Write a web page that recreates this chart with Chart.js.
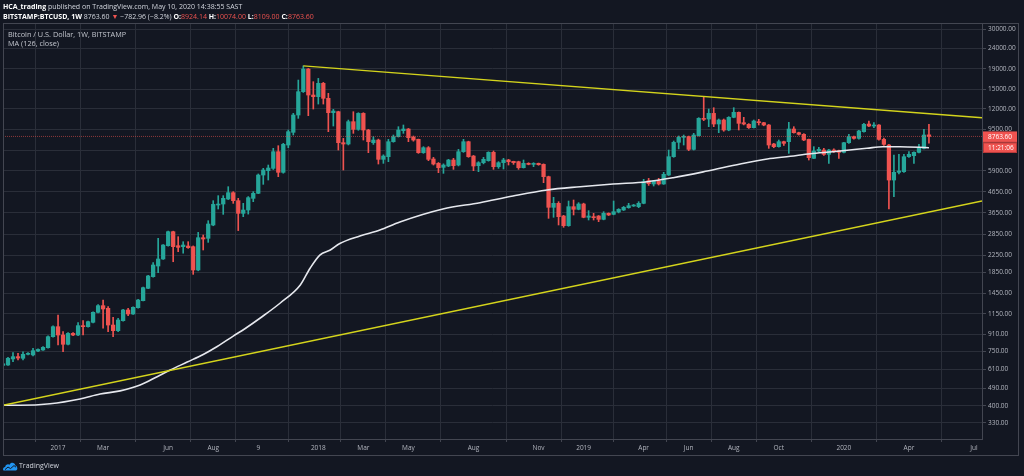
<!DOCTYPE html>
<html>
<head>
<meta charset="utf-8">
<title>BTCUSD 1W</title>
<script src="https://cdn.jsdelivr.net/npm/chart.js@4.4.1/dist/chart.umd.min.js"></script>
<style>
  html, body { margin: 0; padding: 0; background: #131722; }
  body { width: 1024px; height: 476px; position: relative; overflow: hidden;
         font-family: "Open Sans", sans-serif; color: #d1d4dc; }
  #chart { position: absolute; left: 0; top: 0; }
  .t { position: absolute; white-space: nowrap; line-height: 1; }
  .hdr { font-size: 7px; left: 3px; }
  .hdr b { color: #ffffff; font-weight: 700; }
  .red { color: #ef5350; }
  .leg { font-size: 7.3px; left: 8px; color: #c3c6ce; }
  #frame { position: absolute; left: 3px; top: 23px; width: 1016px; height: 433px;
           box-sizing: border-box; border: 1px solid #434651; pointer-events: none; }
  #logo { position: absolute; left: 3px; top: 461px; }
  #logoTxt { left: 19px; top: 462px; font-size: 7px; color: #d1d4dc; }
</style>
</head>
<body>
<canvas id="chart" width="1024" height="476"></canvas>
<div id="frame"></div>

<div class="t hdr" style="top:2.5px"><b>HCA_trading</b> published on TradingView.com, May 10, 2020 14:38:55 SAST</div>
<div class="t hdr" style="top:12.5px"><b>BITSTAMP:BTCUSD, 1W</b> 8763.60 <span class="red">&#9660;</span> &minus;782.96 (&minus;8.2%) <b>O:</b><span class="red">8924.14</span> <b>H:</b><span class="red">10074.00</span> <b>L:</b><span class="red">8109.00</span> <b>C:</b><span class="red">8763.60</span></div>
<div class="t leg" style="top:30.5px">Bitcoin / U.S. Dollar, 1W, BITSTAMP</div>
<div class="t leg" style="top:39.5px">MA (126, close)</div>

<svg id="logo" width="15" height="10" viewBox="0 0 15 10">
  <path d="M1 9.5 C-0.5 9.5 -0.3 6 2.2 6 C2.4 3.6 5 2.6 6.6 3.8 C7.6 1 12 1.2 12.3 4.6 C14.6 4.8 15.2 9.5 12.8 9.5 Z" fill="#2196f3"/>
  <polyline points="2,8.6 5,6 7.5,7.6 11,4.6 13,6.2" fill="none" stroke="#131722" stroke-width="1"/>
</svg>
<div class="t" id="logoTxt">TradingView</div>

<script>
// weekly candles, BITSTAMP BTCUSD, week of 17 Oct 2016 (index 0) to week of 4 May 2020 (index 185)
const opens = [
  636, 639, 685, 703, 690, 722, 717, 750, 759, 779,
  884, 991, 901, 810, 918, 901, 1003, 991, 1042, 1168,
  1261, 1223, 1010, 947, 1062, 1200, 1146, 1232, 1335, 1538,
  1758, 1986, 2152, 2507, 2943, 2506, 2478, 2497, 2478, 1897,
  2747, 2727, 3176, 3994, 4040, 4279, 4600, 4198, 3631, 3772,
  4312, 4566, 5632, 5918, 6080, 7358, 5808, 7941, 9184, 11200,
  14630, 18970, 14085, 13820, 16100, 13560, 11502, 11635, 8159, 8034,
  10378, 9505, 11415, 9432, 8159, 8410, 6741, 6948, 8251, 8737,
  9360, 9540, 8705, 8476, 7274, 7703, 6766, 6438, 6150, 6244,
  6688, 6316, 7358, 8251, 7001, 6267, 6487, 6639, 7303, 6197,
  6487, 6690, 6589, 6563, 6128, 6438, 6364, 6438, 6364, 5528,
  3890, 4072, 3522, 3153, 3919, 3802, 4041, 3469, 3495, 3522,
  3390, 3632, 3590, 3687, 3773, 3874, 3949, 3919, 4072, 5280,
  5082, 5278, 5082, 5632, 6948, 8191, 8672, 8740, 7557, 8839,
  10782, 10698, 11415, 10104, 10578, 9432, 10905, 11549, 10259, 10065,
  9687, 10378, 10259, 9988, 8035, 7793, 8253, 8253, 9541, 9150,
  8976, 8474, 6817, 7414, 7500, 7137, 7500, 7443, 7303, 8158,
  8737, 8572, 9254, 10102, 9874, 9986, 8474, 7941, 5318, 5808,
  5852, 6948, 7030, 7303, 7645, 8924.14
];
const highs = [
  650, 698, 736, 730, 744, 736, 773, 770, 790, 892,
  1000, 1133, 936, 925, 925, 1038, 1062, 1058, 1175, 1275,
  1345, 1246, 1103, 1091, 1210, 1223, 1245, 1355, 1560, 1785,
  2064, 2727, 2540, 2960, 2960, 2779, 2624, 2624, 2500, 2920,
  2833, 3338, 4198, 4446, 4446, 4928, 4654, 4312, 4071, 4400,
  4654, 5700, 6080, 6316, 7645, 7881, 8100, 9432, 11415, 16720,
  19666, 19100, 16410, 17040, 16280, 14355, 11950, 11700, 8572, 10575,
  11635, 11500, 11502, 9500, 8737, 8500, 7100, 8476, 8906, 9800,
  9990, 9600, 8804, 8500, 7793, 7800, 6895, 6500, 6400, 6741,
  6817, 7557, 8476, 8300, 7050, 6561, 6895, 7350, 7417, 6563,
  6819, 6741, 6600, 6600, 6690, 6480, 6487, 6460, 6400, 5560,
  4362, 4150, 3550, 4182, 4230, 4103, 4080, 3744, 3632, 3540,
  3701, 3650, 4182, 3830, 3930, 4072, 4020, 4150, 5361, 5420,
  5300, 5422, 5808, 7500, 8316, 8806, 8906, 8800, 9078, 10864,
  13712, 11998, 12181, 10700, 10700, 10990, 12181, 11600, 10905, 10150,
  10578, 10659, 10300, 10050, 8100, 8412, 8300, 10299, 9800, 9200,
  9050, 8500, 7793, 7732, 7645, 7550, 7600, 7500, 8200, 8974,
  8800, 9400, 10178, 10455, 10259, 10050, 8600, 8000, 7083, 7137,
  7137, 7358, 7350, 8003, 9505, 10074
];
const lows = [
  630, 635, 664, 677, 677, 717, 708, 745, 755, 775,
  880, 804, 744, 805, 895, 895, 901, 985, 1035, 1160,
  973, 936, 884, 936, 1055, 1124, 1140, 1225, 1330, 1530,
  1750, 1840, 2140, 2490, 2086, 2341, 2300, 2431, 1805, 1880,
  2386, 2604, 3150, 3815, 3589, 4250, 4071, 2980, 3495, 3600,
  4150, 4550, 5062, 5318, 6000, 5526, 5750, 7703, 8906, 10780,
  14500, 11115, 11995, 12700, 12700, 9254, 9874, 7500, 5965, 7950,
  9078, 9400, 8410, 7274, 8000, 6388, 6438, 6561, 8200, 8700,
  9078, 8251, 8300, 7219, 7219, 6637, 6316, 5785, 5741, 6197,
  6010, 6250, 7300, 6900, 5920, 5852, 6400, 6600, 6012, 6080,
  6034, 6316, 6364, 6012, 6100, 6330, 6197, 6300, 5160, 3429,
  3470, 3177, 3094, 3130, 3563, 3780, 3450, 3364, 3364, 3301,
  3370, 3540, 3570, 3650, 3750, 3850, 3930, 3874, 4050, 5000,
  4966, 5024, 5060, 5600, 6900, 7600, 7943, 7443, 7500, 8800,
  10500, 9800, 9800, 9150, 9300, 9350, 10850, 9432, 10000, 9600,
  9650, 9988, 9900, 7645, 7700, 7750, 7900, 7219, 9100, 8900,
  8350, 6688, 6800, 7350, 7050, 6437, 7300, 6817, 7250, 8100,
  8500, 8500, 9200, 9800, 9700, 8400, 7900, 3815, 4395, 5700,
  5800, 6900, 6437, 7250, 7600, 8109
];
const closes = [
  648, 690, 703, 692, 722, 730, 753, 764, 782, 884,
  991, 901, 810, 918, 901, 1003, 991, 1050, 1168, 1261,
  1214, 1010, 947, 1070, 1200, 1146, 1237, 1345, 1550, 1772,
  2009, 2152, 2526, 2943, 2478, 2459, 2526, 2450, 1897, 2747,
  2706, 3213, 4024, 4040, 4312, 4600, 4198, 3631, 3772, 4345,
  4566, 5632, 5965, 6103, 7358, 5808, 8003, 9254, 11200, 14630,
  18970, 14085, 13820, 16100, 13560, 11502, 11725, 8159, 8034, 10378,
  9505, 11415, 9432, 8251, 8410, 6741, 7001, 8251, 8737, 9432,
  9540, 8637, 8410, 7274, 7703, 6741, 6388, 6126, 6316, 6688,
  6267, 7358, 8251, 6948, 6244, 6487, 6741, 7303, 6197, 6487,
  6690, 6563, 6487, 6128, 6438, 6364, 6414, 6341, 5528, 3890,
  4072, 3495, 3153, 3919, 3802, 4041, 3469, 3522, 3455, 3390,
  3632, 3563, 3701, 3802, 3890, 3964, 3995, 4072, 5219, 5100,
  5259, 5082, 5677, 6948, 8191, 8672, 8740, 7557, 8906, 10782,
  10659, 11415, 10104, 10578, 9432, 10905, 11549, 10181, 10104, 9687,
  10457, 10259, 9988, 7943, 7793, 8253, 8097, 9541, 9150, 8976,
  8412, 6869, 7414, 7557, 7137, 7500, 7358, 7303, 8158, 8737,
  8572, 9325, 10065, 9874, 9986, 8474, 8003, 5318, 5808, 5900,
  6948, 7137, 7303, 7732, 8906, 8763.6
];

// MA (126, close): bar index / value
const maIdx = [0, 3.4, 9.4, 15.4, 19.4, 23.4, 27.4, 30.8, 33.4, 36.8,
  40, 42.8, 46, 48.4, 51.4, 55.4, 59.4, 61.35, 63.3, 65.4, 67.3,
  71.3, 75.3, 79.3, 87.9, 95.3, 101.9, 108.7, 115.3, 121.9, 128.7,
  133.9, 140.7, 147.3, 152.7, 157.3, 161.3, 165.8, 172.6, 175.8, 179.2, 185];
const maVal = [403, 403, 410, 433, 458, 475, 508, 559, 603, 661,
  721, 790, 890, 971, 1095, 1300, 1598, 1935, 2252, 2386, 2570,
  2800, 3000, 3288, 3815, 4102, 4430, 4745, 4926, 5082, 5217,
  5462, 5896, 6390, 6766, 6980, 7190, 7357, 7650, 7790, 7790, 7700];

// hand drawn trendlines (end points)
const upperIdx = [60, 195.6];
const upperVal = [19666, 10860];
const lowerIdx = [0, 195.6];
const lowerVal = [402.6, 4183];

const lastPrice = 8763.6;
const countdown = '11:21:06';

const xTickIdx = [11, 20, 33, 42, 51, 63, 72, 81, 94, 107, 116, 128, 137, 146, 155, 168, 181, 194];
const xTickText = ['2017', 'Mar', 'Jun', 'Aug', '9', '2018', 'Mar', 'May', 'Aug', 'Nov',
  '2019', 'Apr', 'Jun', 'Aug', 'Oct', '2020', 'Apr', 'Jul'];
const yTicks = [330, 400, 490, 610, 750, 910, 1150, 1450, 1850, 2250, 2850, 3650,
  4650, 5900, 7500, 9500, 12000, 15000, 19000, 24000, 30000];

const UP = '#26a69a';
const DOWN = '#ef5350';
const GRID = '#2a2e39';
const AXIS = '#434651';

function candleColor(ctx) {
  const i = ctx.dataIndex;
  return closes[i] >= opens[i] ? UP : DOWN;
}

const priceTag = {
  id: 'priceTag',
  afterDraw(chart) {
    const ctx = chart.ctx;
    const y = chart.scales.y.getPixelForValue(lastPrice);
    const x0 = chart.chartArea.right + 1;
    ctx.save();
    ctx.fillStyle = DOWN;
    ctx.fillRect(x0, y - 5, 34, 10.5);
    ctx.fillRect(x0, y + 6, 34, 10.5);
    ctx.strokeStyle = '#b73a3a';
    ctx.lineWidth = 1;
    ctx.strokeRect(x0 + 0.5, y + 6.5, 33, 9.5);
    ctx.fillStyle = '#ffffff';
    ctx.font = '6.5px "Open Sans", sans-serif';
    ctx.textBaseline = 'middle';
    ctx.fillText(lastPrice.toFixed(2), x0 + 5, y + 0.3);
    ctx.fillText(countdown, x0 + 5, y + 11.3);
    ctx.restore();
  }
};

Chart.defaults.font.family = '"Open Sans", sans-serif';
Chart.defaults.font.size = 6.5;
Chart.defaults.color = '#b2b5be';

new Chart(document.getElementById('chart'), {
  type: 'bar',
  data: {
    datasets: [
      {
        label: 'wicks',
        data: highs.map((h, i) => ({ x: i, y: [lows[i], h] })),
        backgroundColor: candleColor,
        barThickness: 1,
        grouped: false,
        order: 6
      },
      {
        label: 'bodies',
        data: opens.map((o, i) => ({ x: i, y: [o, closes[i]] })),
        backgroundColor: candleColor,
        barThickness: 3.6,
        minBarLength: 1,
        grouped: false,
        order: 5
      },
      {
        type: 'line',
        label: 'MA (126, close)',
        data: maIdx.map((x, i) => ({ x: x, y: maVal[i] })),
        borderColor: '#e6e8ee',
        borderWidth: 1.6,
        pointRadius: 0,
        cubicInterpolationMode: 'monotone',
        order: 4
      },
      {
        type: 'line',
        label: 'last',
        data: [{ x: 0, y: lastPrice }, { x: 195.6, y: lastPrice }],
        borderColor: 'rgba(239,83,80,0.55)',
        borderWidth: 1,
        borderDash: [1, 1],
        pointRadius: 0,
        order: 3
      },
      {
        type: 'line',
        label: 'upper',
        data: upperIdx.map((x, i) => ({ x: x, y: upperVal[i] })),
        borderColor: '#d4d41c',
        borderWidth: 1.4,
        pointRadius: 0,
        order: 1
      },
      {
        type: 'line',
        label: 'lower',
        data: lowerIdx.map((x, i) => ({ x: x, y: lowerVal[i] })),
        borderColor: '#d4d41c',
        borderWidth: 1.4,
        pointRadius: 0,
        order: 1
      }
    ]
  },
  options: {
    responsive: false,
    animation: false,
    events: [],
    layout: { padding: { left: 3, top: 23, right: 6, bottom: 21 } },
    plugins: { legend: { display: false }, tooltip: { enabled: false } },
    scales: {
      x: {
        type: 'linear',
        min: 0,
        max: 195.6,
        bounds: 'data',
        offset: false,
        grid: { color: GRID, tickColor: AXIS, tickLength: 3 },
        border: { color: AXIS },
        afterBuildTicks: (scale) => { scale.ticks = xTickIdx.map(v => ({ value: v })); },
        afterFit: (scale) => { scale.height = 16; },
        ticks: {
          autoSkip: false,
          maxRotation: 0,
          padding: 2,
          callback: (v) => xTickText[xTickIdx.indexOf(v)]
        }
      },
      y: {
        type: 'logarithmic',
        position: 'right',
        min: 273.7,
        max: 32140,
        bounds: 'data',
        grid: { color: GRID, tickColor: AXIS, tickLength: 4 },
        border: { color: AXIS },
        afterBuildTicks: (scale) => { scale.ticks = yTicks.map(v => ({ value: v })); },
        afterFit: (scale) => { scale.width = 36; },
        ticks: {
          padding: 2,
          callback: (v) => v.toFixed(2)
        }
      }
    }
  },
  plugins: [priceTag]
});
</script>
</body>
</html>
